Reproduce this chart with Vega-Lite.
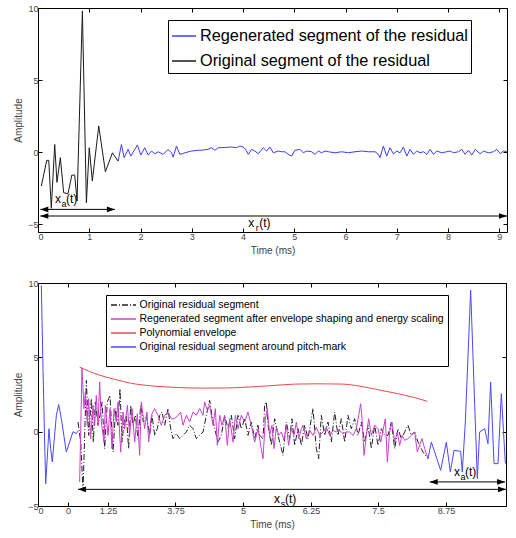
{
"$schema":"https://vega.github.io/schema/vega-lite/v6.json",
"padding":{"left":13,"top":3,"right":5,"bottom":0},
"spacing":22,
"config":{
 "font":"Liberation Sans",
 "view":{"stroke":"#000","strokeWidth":1},
 "axis":{"grid":false,"domain":false,"tickColor":"#000","tickSize":-4,"labelColor":"#444","labelFont":"Liberation Sans","labelFontSize":9,"titleFont":"Liberation Sans","titleFontSize":10,"titleFontWeight":"normal","titleColor":"#444","labelPadding":4,"titlePadding":4}
},
"datasets":{
 "topO":[{"x":0.065,"y":-2.36},{"x":0.17,"y":-0.58},{"x":0.21,"y":-0.58},{"x":0.26,"y":-3.9},{"x":0.326,"y":0.53},{"x":0.37,"y":-2.1},{"x":0.436,"y":-0.39},{"x":0.5,"y":-2.82},{"x":0.585,"y":-2.9},{"x":0.66,"y":-1.6},{"x":0.716,"y":-1.6},{"x":0.762,"y":-3.4},{"x":0.866,"y":9.79},{"x":0.944,"y":-3.52},{"x":1.0,"y":0.3},{"x":1.06,"y":-2.01},{"x":1.185,"y":1.81},{"x":1.315,"y":-1.37},{"x":1.452,"y":-0.05},{"x":1.563,"y":-0.63}],
 "topR":[{"x":1.563,"y":-0.63},{"x":1.628,"y":0.53},{"x":1.68,"y":-0.39},{"x":1.758,"y":0.19},{"x":1.81,"y":-0.28},{"x":1.94,"y":0.49},{"x":2.005,"y":-0.21},{"x":2.083,"y":0.3},{"x":2.148,"y":-0.21},{"x":2.214,"y":0.07},{"x":2.279,"y":-0.12},{"x":2.344,"y":0.02},{"x":2.441,"y":-0.16},{"x":2.539,"y":0.19},{"x":2.604,"y":-0.05},{"x":2.637,"y":-0.35},{"x":2.702,"y":0.42},{"x":2.767,"y":-0.16},{"x":2.865,"y":-0.05},{"x":2.995,"y":0.07},{"x":3.125,"y":0.12},{"x":3.223,"y":0.14},{"x":3.32,"y":0.19},{"x":3.385,"y":0.3},{"x":3.451,"y":0.12},{"x":3.516,"y":0.3},{"x":3.646,"y":0.32},{"x":3.776,"y":0.35},{"x":3.874,"y":0.3},{"x":3.939,"y":0.42},{"x":4.004,"y":0.35},{"x":4.049,"y":0.19},{"x":4.102,"y":-0.16},{"x":4.167,"y":0.19},{"x":4.232,"y":0.07},{"x":4.297,"y":-0.12},{"x":4.395,"y":0.3},{"x":4.46,"y":0.07},{"x":4.525,"y":0.35},{"x":4.59,"y":-0.05},{"x":4.688,"y":0.07},{"x":4.753,"y":0.02},{"x":4.818,"y":0.02},{"x":4.883,"y":-0.16},{"x":4.948,"y":-0.28},{"x":5.013,"y":0.12},{"x":5.111,"y":0.19},{"x":5.176,"y":-0.05},{"x":5.241,"y":0.07},{"x":5.339,"y":0.02},{"x":5.404,"y":-0.16},{"x":5.469,"y":0.07},{"x":5.534,"y":-0.05},{"x":5.599,"y":0.07},{"x":5.664,"y":0.02},{"x":5.794,"y":-0.05},{"x":5.924,"y":0.02},{"x":6.055,"y":-0.05},{"x":6.185,"y":0.02},{"x":6.315,"y":0.07},{"x":6.445,"y":0.02},{"x":6.576,"y":0.02},{"x":6.641,"y":-0.16},{"x":6.673,"y":-0.39},{"x":6.738,"y":0.42},{"x":6.803,"y":-0.28},{"x":6.868,"y":0.3},{"x":6.934,"y":-0.12},{"x":6.999,"y":0.07},{"x":7.064,"y":-0.05},{"x":7.129,"y":0.35},{"x":7.194,"y":-0.28},{"x":7.259,"y":0.19},{"x":7.324,"y":-0.16},{"x":7.389,"y":0.07},{"x":7.454,"y":-0.05},{"x":7.52,"y":0.02},{"x":7.585,"y":-0.16},{"x":7.65,"y":0.19},{"x":7.715,"y":-0.16},{"x":7.78,"y":0.07},{"x":7.878,"y":-0.05},{"x":7.975,"y":0.02},{"x":8.04,"y":0.07},{"x":8.105,"y":-0.05},{"x":8.203,"y":0.02},{"x":8.268,"y":0.19},{"x":8.333,"y":-0.16},{"x":8.398,"y":0.12},{"x":8.464,"y":-0.21},{"x":8.529,"y":0.19},{"x":8.626,"y":-0.12},{"x":8.691,"y":0.07},{"x":8.789,"y":-0.05},{"x":8.887,"y":0.02},{"x":8.952,"y":0.19},{"x":9.017,"y":-0.12},{"x":9.082,"y":0.07},{"x":9.15,"y":0.02}],
 "topArrows":[{"x":0.045,"x2":1.5,"y":-3.98},{"x":0.045,"x2":9.15,"y":-4.44}],
 "topHeads":[{"x":0.045,"y":-3.98,"d":"L"},{"x":1.5,"y":-3.98,"d":"R"},{"x":0.045,"y":-4.44,"d":"L"},{"x":9.15,"y":-4.44,"d":"R"}],
 "topLabels":[{"x":0.39,"y":-3.26,"s":"a"},{"x":4.16,"y":-4.93,"s":"r"}],
 "botB":[{"x":0.071,"y":9.84,"g":1},{"x":0.107,"y":4.24,"g":1},{"x":0.142,"y":-0.7,"g":1},{"x":0.164,"y":-3.5,"g":1},{"x":0.214,"y":-0.92,"g":1},{"x":0.235,"y":0.2,"g":1},{"x":0.271,"y":-1.14,"g":1},{"x":0.306,"y":-2.04,"g":1},{"x":0.342,"y":-0.7,"g":1},{"x":0.392,"y":1.1,"g":1},{"x":0.442,"y":1.82,"g":1},{"x":0.499,"y":0.87,"g":1},{"x":0.605,"y":-1.37,"g":1},{"x":0.748,"y":0.0,"g":1},{"x":0.819,"y":-0.13,"g":1},{"x":0.855,"y":0.05,"g":1},
  {"x":8.333,"y":-1.82,"g":2},{"x":8.405,"y":-0.7,"g":2},{"x":8.476,"y":-1.37,"g":2},{"x":8.604,"y":-2.6,"g":2},{"x":8.725,"y":-0.7,"g":2},{"x":8.81,"y":-2.71,"g":2},{"x":8.889,"y":-1.26,"g":2},{"x":9.031,"y":-1.32,"g":2},{"x":9.066,"y":-2.71,"g":2},{"x":9.131,"y":0.65,"g":2},{"x":9.245,"y":9.51,"g":2},{"x":9.387,"y":-3.16,"g":2},{"x":9.437,"y":-0.02,"g":2},{"x":9.544,"y":0.2,"g":2},{"x":9.615,"y":-0.81,"g":2},{"x":9.672,"y":3.34,"g":2},{"x":9.744,"y":-2.15,"g":2},{"x":9.829,"y":-2.15,"g":2},{"x":9.9,"y":2.56,"g":2},{"x":9.986,"y":-2.15,"g":2}],
 "botP":[{"x":0.89,"y":4.35},{"x":1.1,"y":4.05},{"x":1.3,"y":3.82},{"x":1.6,"y":3.55},{"x":2.0,"y":3.25},{"x":2.5,"y":3.06},{"x":3.0,"y":2.97},{"x":3.5,"y":2.93},{"x":4.0,"y":2.94},{"x":4.5,"y":3.0},{"x":5.0,"y":3.1},{"x":5.5,"y":3.2},{"x":6.0,"y":3.22},{"x":6.5,"y":3.2},{"x":6.9,"y":3.05},{"x":7.3,"y":2.8},{"x":7.7,"y":2.55},{"x":8.0,"y":2.33},{"x":8.32,"y":2.04}],
 "botR":[{"x":0.89,"y":-3.39},{"x":0.94,"y":4.28},{"x":0.983,"y":1.55},{"x":1.011,"y":2.67},{"x":1.054,"y":0.43},{"x":1.083,"y":2.22},{"x":1.125,"y":-0.47},{"x":1.175,"y":1.77},{"x":1.211,"y":0.43},{"x":1.246,"y":2.44},{"x":1.282,"y":0.43},{"x":1.318,"y":3.34},{"x":1.353,"y":0.65},{"x":1.41,"y":-0.7},{"x":1.439,"y":1.77},{"x":1.496,"y":-0.25},{"x":1.538,"y":1.55},{"x":1.581,"y":-1.14},{"x":1.624,"y":1.55},{"x":1.674,"y":0.65},{"x":1.709,"y":2.0},{"x":1.766,"y":-1.37},{"x":1.816,"y":1.32},{"x":1.852,"y":0.2},{"x":1.909,"y":1.77},{"x":1.959,"y":-0.25},{"x":2.009,"y":1.55},{"x":2.066,"y":-0.7},{"x":2.123,"y":1.21},{"x":2.172,"y":-1.59},{"x":2.208,"y":2.0},{"x":2.279,"y":0.2},{"x":2.329,"y":1.32},{"x":2.365,"y":-0.7},{"x":2.422,"y":1.1},{"x":2.493,"y":1.55},{"x":2.564,"y":1.1},{"x":2.635,"y":0.43},{"x":2.707,"y":1.1},{"x":2.778,"y":1.32},{"x":2.849,"y":0.87},{"x":2.92,"y":0.87},{"x":2.991,"y":1.1},{"x":3.048,"y":1.32},{"x":3.098,"y":0.43},{"x":3.17,"y":1.1},{"x":3.241,"y":0.65},{"x":3.312,"y":1.32},{"x":3.383,"y":1.1},{"x":3.454,"y":1.55},{"x":3.526,"y":1.1},{"x":3.561,"y":2.0},{"x":3.618,"y":1.43},{"x":3.668,"y":1.77},{"x":3.739,"y":0.43},{"x":3.789,"y":1.55},{"x":3.832,"y":-0.92},{"x":3.882,"y":1.1},{"x":3.932,"y":0.43},{"x":3.989,"y":1.1},{"x":4.046,"y":-0.92},{"x":4.095,"y":0.87},{"x":4.167,"y":-0.7},{"x":4.217,"y":1.1},{"x":4.274,"y":0.2},{"x":4.345,"y":1.1},{"x":4.416,"y":0.65},{"x":4.487,"y":1.32},{"x":4.558,"y":0.43},{"x":4.63,"y":-0.7},{"x":4.701,"y":0.2},{"x":4.758,"y":-0.92},{"x":4.808,"y":-1.82},{"x":4.858,"y":0.87},{"x":4.9,"y":1.55},{"x":4.95,"y":-0.25},{"x":5.0,"y":0.43},{"x":5.043,"y":-1.14},{"x":5.093,"y":0.31},{"x":5.142,"y":-0.25},{"x":5.199,"y":-0.02},{"x":5.256,"y":-0.58},{"x":5.306,"y":0.43},{"x":5.356,"y":-0.92},{"x":5.413,"y":0.2},{"x":5.47,"y":-0.25},{"x":5.52,"y":0.65},{"x":5.57,"y":-0.47},{"x":5.627,"y":0.2},{"x":5.662,"y":0.43},{"x":5.734,"y":-0.47},{"x":5.806,"y":0.09},{"x":5.877,"y":-0.25},{"x":5.947,"y":0.31},{"x":6.018,"y":-0.25},{"x":6.09,"y":-0.02},{"x":6.161,"y":0.31},{"x":6.232,"y":-0.25},{"x":6.303,"y":0.09},{"x":6.375,"y":-0.02},{"x":6.446,"y":0.09},{"x":6.517,"y":-0.13},{"x":6.588,"y":-0.02},{"x":6.659,"y":-0.02},{"x":6.731,"y":-0.25},{"x":6.802,"y":0.2},{"x":6.852,"y":1.1},{"x":6.895,"y":1.88},{"x":6.923,"y":0.87},{"x":6.966,"y":-1.59},{"x":7.016,"y":-0.25},{"x":7.066,"y":0.87},{"x":7.123,"y":-0.25},{"x":7.194,"y":0.43},{"x":7.265,"y":0.2},{"x":7.322,"y":-0.7},{"x":7.372,"y":0.09},{"x":7.422,"y":0.87},{"x":7.464,"y":-2.04},{"x":7.514,"y":-0.02},{"x":7.564,"y":0.65},{"x":7.621,"y":-0.7},{"x":7.678,"y":-0.02},{"x":7.728,"y":-0.92},{"x":7.778,"y":-0.25},{"x":7.835,"y":-0.58},{"x":7.906,"y":-0.47},{"x":7.977,"y":-0.25},{"x":8.048,"y":-0.02},{"x":8.105,"y":-1.37},{"x":8.154,"y":-0.92},{"x":8.205,"y":-0.47},{"x":8.262,"y":-1.14},{"x":8.333,"y":-1.82}],
 "botO":[{"x":0.855,"y":0.65},{"x":0.912,"y":-0.7},{"x":0.962,"y":-3.95},{"x":0.997,"y":-0.25},{"x":1.033,"y":3.45},{"x":1.083,"y":-0.25},{"x":1.14,"y":2.22},{"x":1.182,"y":-0.7},{"x":1.225,"y":2.0},{"x":1.282,"y":0.43},{"x":1.325,"y":1.1},{"x":1.368,"y":2.0},{"x":1.425,"y":-1.14},{"x":1.481,"y":2.0},{"x":1.538,"y":2.44},{"x":1.603,"y":-1.37},{"x":1.66,"y":1.55},{"x":1.709,"y":0.43},{"x":1.752,"y":2.89},{"x":1.795,"y":-0.7},{"x":1.838,"y":0.65},{"x":1.887,"y":1.1},{"x":1.937,"y":-1.14},{"x":1.98,"y":1.77},{"x":2.03,"y":0.43},{"x":2.08,"y":1.1},{"x":2.137,"y":-0.47},{"x":2.194,"y":1.77},{"x":2.251,"y":0.65},{"x":2.315,"y":1.1},{"x":2.386,"y":-0.25},{"x":2.436,"y":1.1},{"x":2.493,"y":-0.25},{"x":2.55,"y":0.2},{"x":2.6,"y":1.1},{"x":2.65,"y":1.32},{"x":2.707,"y":0.43},{"x":2.778,"y":1.55},{"x":2.835,"y":0.2},{"x":2.885,"y":-0.47},{"x":2.956,"y":-0.13},{"x":3.027,"y":-0.47},{"x":3.098,"y":-0.25},{"x":3.17,"y":-0.02},{"x":3.241,"y":0.43},{"x":3.312,"y":0.2},{"x":3.383,"y":-0.47},{"x":3.454,"y":-0.25},{"x":3.526,"y":-0.02},{"x":3.597,"y":1.1},{"x":3.668,"y":2.11},{"x":3.718,"y":1.1},{"x":3.775,"y":0.2},{"x":3.846,"y":-0.7},{"x":3.917,"y":-0.25},{"x":3.989,"y":1.1},{"x":4.06,"y":0.2},{"x":4.131,"y":1.1},{"x":4.202,"y":-0.47},{"x":4.274,"y":1.1},{"x":4.345,"y":0.2},{"x":4.416,"y":0.87},{"x":4.487,"y":-0.25},{"x":4.558,"y":0.65},{"x":4.63,"y":-0.47},{"x":4.701,"y":0.43},{"x":4.736,"y":-0.25},{"x":4.808,"y":-0.47},{"x":4.843,"y":1.77},{"x":4.879,"y":2.0},{"x":4.915,"y":0.43},{"x":4.986,"y":-0.92},{"x":5.057,"y":0.87},{"x":5.128,"y":-0.25},{"x":5.199,"y":-1.14},{"x":5.235,"y":-1.59},{"x":5.306,"y":0.65},{"x":5.378,"y":-0.47},{"x":5.427,"y":0.87},{"x":5.484,"y":-0.92},{"x":5.556,"y":0.2},{"x":5.627,"y":-0.92},{"x":5.698,"y":0.43},{"x":5.769,"y":-0.47},{"x":5.876,"y":1.55},{"x":5.947,"y":-1.14},{"x":5.997,"y":-1.82},{"x":6.054,"y":1.1},{"x":6.125,"y":-0.25},{"x":6.197,"y":0.65},{"x":6.268,"y":-0.7},{"x":6.339,"y":1.32},{"x":6.41,"y":-0.25},{"x":6.481,"y":0.87},{"x":6.553,"y":-0.7},{"x":6.624,"y":1.1},{"x":6.695,"y":0.2},{"x":6.766,"y":0.87},{"x":6.838,"y":-0.25},{"x":6.909,"y":0.65},{"x":6.98,"y":-0.7},{"x":7.051,"y":0.43},{"x":7.123,"y":-1.14},{"x":7.194,"y":0.43},{"x":7.265,"y":-0.92},{"x":7.336,"y":0.2},{"x":7.407,"y":-0.25},{"x":7.479,"y":-0.25},{"x":7.55,"y":0.65},{"x":7.621,"y":-1.14},{"x":7.692,"y":0.2},{"x":7.764,"y":-0.47},{"x":7.835,"y":-0.02},{"x":7.906,"y":0.43},{"x":7.977,"y":-0.25},{"x":8.048,"y":-0.02},{"x":8.12,"y":-0.7},{"x":8.226,"y":-1.37},{"x":8.333,"y":-1.82}],
 "botArrows":[{"x":0.855,"x2":10,"y":-3.88},{"x":8.37,"x2":9.98,"y":-3.38}],
 "botHeads":[{"x":0.855,"y":-3.88,"d":"L"},{"x":10,"y":-3.88,"d":"R"},{"x":8.37,"y":-3.38,"d":"L"},{"x":9.98,"y":-3.38,"d":"R"}],
 "botLabels":[{"x":5.107,"y":-4.5,"s":"s"},{"x":8.953,"y":-2.69,"s":"a"}]
},
"resolve":{"scale":{"color":"independent"},"legend":{"color":"independent"}},
"vconcat":[
 {
  "width":469,"height":224,
  "resolve":{"axis":{"x":"independent","y":"independent"}},
  "layer":[
   {"data":{"name":"topR"},"mark":{"type":"line","strokeWidth":1,"clip":true},
    "encoding":{
     "x":{"field":"x","type":"quantitative","scale":{"domain":[0,9.15],"nice":false,"zero":false},"axis":{"orient":"bottom","values":[0,1,2,3,4,5,6,7,8,9],"title":"Time (ms)"}},
     "y":{"field":"y","type":"quantitative","scale":{"domain":[-5.55,10],"nice":false,"zero":false},"axis":{"orient":"left","values":[-5,0,5,10],"title":"Amplitude"}},
     "color":{"datum":"Regenerated segment of the residual","scale":{"domain":["Regenerated segment of the residual","Original segment of the residual"],"range":["#3c3cff","#1a1a1a"]},
      "legend":{"orient":"none","legendX":130,"legendY":12,"title":null,"symbolType":"stroke","symbolSize":576,"symbolStrokeWidth":1.5,"labelFontSize":16.3,"labelFont":"Liberation Sans","labelColor":"#000","strokeColor":"#000","fillColor":"#fff","padding":3,"rowPadding":3,"labelOffset":3,"labelLimit":500,
       "encode":{"symbols":{"update":{"stroke":{"signal":"datum.value === 'Regenerated segment of the residual' ? '#3c3cff' : '#1a1a1a'"}}}}}}
    }},
   {"data":{"name":"topO"},"mark":{"type":"line","strokeWidth":1,"clip":true},
    "encoding":{"x":{"field":"x","type":"quantitative","axis":null},"y":{"field":"y","type":"quantitative","axis":null},"color":{"datum":"Original segment of the residual"}}},
   {"data":{"name":"topArrows"},"mark":{"type":"rule","color":"#000","strokeWidth":1},
    "encoding":{"x":{"field":"x","type":"quantitative","axis":{"orient":"top","labels":false,"title":null,"values":[0,1,2,3,4,5,6,7,8,9]}},"x2":{"field":"x2"},"y":{"field":"y","type":"quantitative","axis":{"orient":"right","labels":false,"title":null,"values":[-5,0,5,10]}}}},
   {"data":{"name":"topHeads"},"mark":{"type":"point","filled":true,"color":"#000","opacity":1,"size":64},
    "encoding":{"x":{"field":"x","type":"quantitative","axis":null},"y":{"field":"y","type":"quantitative","axis":null},"shape":{"field":"d","type":"nominal","scale":{"domain":["L","R"],"range":["M0,0L2,-0.7L2,0.7Z","M0,0L-2,-0.7L-2,0.7Z"]},"legend":null}}},
   {"data":{"name":"topLabels"},"mark":{"type":"text","fontSize":12,"font":"Liberation Sans","align":"center","baseline":"middle","color":"#000"},
    "encoding":{"x":{"field":"x","type":"quantitative","axis":null},"y":{"field":"y","type":"quantitative","axis":null},"text":{"value":"x"}}},
   {"data":{"name":"topLabels"},"mark":{"type":"text","fontSize":9,"font":"Liberation Sans","align":"center","baseline":"middle","dx":6,"dy":5,"color":"#000"},
    "encoding":{"x":{"field":"x","type":"quantitative","axis":null},"y":{"field":"y","type":"quantitative","axis":null},"text":{"field":"s"}}},
   {"data":{"name":"topLabels"},"mark":{"type":"text","fontSize":12,"font":"Liberation Sans","align":"left","baseline":"middle","dx":8,"color":"#000"},
    "encoding":{"x":{"field":"x","type":"quantitative","axis":null},"y":{"field":"y","type":"quantitative","axis":null},"text":{"value":"(t)"}}}
  ]
 },
 {
  "width":468,"height":223,
  "resolve":{"axis":{"x":"independent","y":"independent"}},
  "layer":[
   {"data":{"name":"botB"},"mark":{"type":"line","strokeWidth":1,"clip":true},
    "encoding":{
     "x":{"field":"x","type":"quantitative","scale":{"domain":[0,10],"nice":false,"zero":false},"axis":{"orient":"bottom","values":[0,0.641,1.496,2.938,4.38,5.833,7.265,8.718],"labelExpr":"datum.value < 1 ? '0' : datum.value < 2 ? '1.25' : datum.value < 3.5 ? '3.75' : datum.value < 5 ? '5' : datum.value < 6.5 ? '6.25' : datum.value < 8 ? '7.5' : '8.75'","title":"Time (ms)"}},
     "y":{"field":"y","type":"quantitative","scale":{"domain":[-5,10],"nice":false,"zero":false},"axis":{"orient":"left","values":[-5,0,5,10],"title":"Amplitude"}},
     "detail":{"field":"g"},
     "color":{"datum":"Original residual segment around pitch-mark","scale":{"domain":["Original residual segment","Regenerated segment after envelope shaping and energy scaling","Polynomial envelope","Original residual segment around pitch-mark"],"range":["#222222","#cc3fcc","#f04848","#4848ff"]},
      "legend":{"orient":"none","legendX":68,"legendY":12,"title":" ","titleOrient":"bottom","titleFontSize":8,"titlePadding":1,"symbolType":"M-2.5,0H2.5","symbolSize":100,"symbolOffset":7.5,"symbolStrokeWidth":1.5,"labelFontSize":10.5,"labelFont":"Liberation Sans","labelColor":"#000","strokeColor":"#000","fillColor":"#fff","padding":4,"rowPadding":2,"labelOffset":10,"labelLimit":500,
       "encode":{"symbols":{"update":{"stroke":{"signal":"datum.value === 'Original residual segment' ? '#222222' : datum.value === 'Polynomial envelope' ? '#f04848' : datum.value === 'Original residual segment around pitch-mark' ? '#4848ff' : '#cc3fcc'"},"strokeDash":{"signal":"datum.value === 'Original residual segment' ? [6,2,1,2] : []"}}}}}}
    }},
   {"data":{"name":"botO"},"mark":{"type":"line","strokeWidth":1,"clip":true,"strokeDash":[6,2,1,2]},
    "encoding":{"x":{"field":"x","type":"quantitative","axis":null},"y":{"field":"y","type":"quantitative","axis":null},"color":{"datum":"Original residual segment"}}},
   {"data":{"name":"botR"},"mark":{"type":"line","strokeWidth":1,"clip":true},
    "encoding":{"x":{"field":"x","type":"quantitative","axis":null},"y":{"field":"y","type":"quantitative","axis":null},"color":{"datum":"Regenerated segment after envelope shaping and energy scaling"}}},
   {"data":{"name":"botP"},"mark":{"type":"line","strokeWidth":1,"clip":true,"interpolate":"monotone"},
    "encoding":{"x":{"field":"x","type":"quantitative","axis":null},"y":{"field":"y","type":"quantitative","axis":null},"color":{"datum":"Polynomial envelope"}}},
   {"data":{"name":"botArrows"},"mark":{"type":"rule","color":"#000","strokeWidth":1},
    "encoding":{"x":{"field":"x","type":"quantitative","axis":{"orient":"top","labels":false,"title":null,"values":[0,0.641,1.496,2.938,4.38,5.833,7.265,8.718]}},"x2":{"field":"x2"},"y":{"field":"y","type":"quantitative","axis":{"orient":"right","labels":false,"title":null,"values":[-5,0,5,10]}}}},
   {"data":{"name":"botHeads"},"mark":{"type":"point","filled":true,"color":"#000","opacity":1,"size":64},
    "encoding":{"x":{"field":"x","type":"quantitative","axis":null},"y":{"field":"y","type":"quantitative","axis":null},"shape":{"field":"d","type":"nominal","scale":{"domain":["L","R"],"range":["M0,0L2,-0.7L2,0.7Z","M0,0L-2,-0.7L-2,0.7Z"]},"legend":null}}},
   {"data":{"name":"botLabels"},"mark":{"type":"text","fontSize":12,"font":"Liberation Sans","align":"center","baseline":"middle","color":"#000"},
    "encoding":{"x":{"field":"x","type":"quantitative","axis":null},"y":{"field":"y","type":"quantitative","axis":null},"text":{"value":"x"}}},
   {"data":{"name":"botLabels"},"mark":{"type":"text","fontSize":9,"font":"Liberation Sans","align":"center","baseline":"middle","dx":6,"dy":5,"color":"#000"},
    "encoding":{"x":{"field":"x","type":"quantitative","axis":null},"y":{"field":"y","type":"quantitative","axis":null},"text":{"field":"s"}}},
   {"data":{"name":"botLabels"},"mark":{"type":"text","fontSize":12,"font":"Liberation Sans","align":"left","baseline":"middle","dx":8,"color":"#000"},
    "encoding":{"x":{"field":"x","type":"quantitative","axis":null},"y":{"field":"y","type":"quantitative","axis":null},"text":{"value":"(t)"}}}
  ]
 }
]
}
